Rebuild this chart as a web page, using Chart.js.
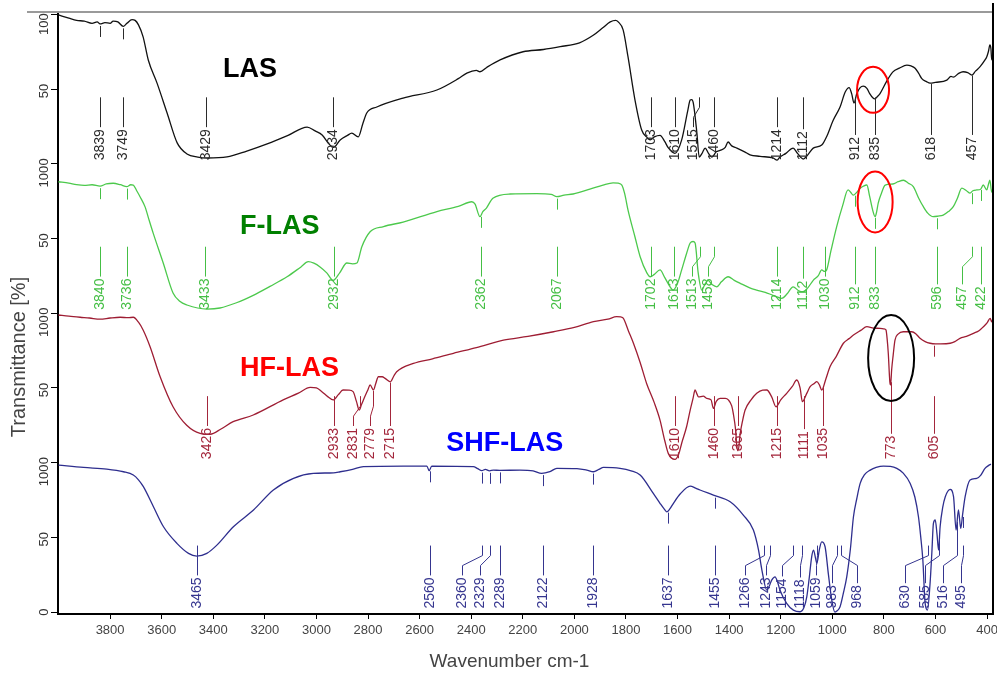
<!DOCTYPE html>
<html>
<head>
<meta charset="utf-8">
<title>FTIR spectra - LAS, F-LAS, HF-LAS, SHF-LAS</title>
<script src="https://cdn.jsdelivr.net/npm/chart.js@4.4.0/dist/chart.umd.min.js"></script>
<style>
  html, body { margin: 0; padding: 0; background: #fff; }
  canvas { display: block; }
</style>
</head>
<body>
<canvas id="ftir" width="997" height="674"></canvas>
<script>
var FONT = 'Arial, "Liberation Sans", sans-serif';

// [wavenumber cm-1, transmittance %]
var lasPoints = [
  [4000, 99.6], [3960, 97.5], [3930, 96], [3900, 95.5], [3870, 94], [3850, 95], [3839, 93.6],
  [3820, 94.5], [3800, 94], [3788, 95.5], [3770, 95], [3749, 92], [3735, 94], [3715, 96.5],
  [3703, 96], [3690, 93], [3672, 85], [3652, 69.5], [3618, 54], [3579, 34], [3540, 14],
  [3502, 6.6], [3460, 4.5], [3424, 3.9], [3347, 4.6], [3270, 8.5], [3191, 13.3], [3110, 19],
  [3036, 24.6], [3005, 22], [2978, 19.3], [2950, 13], [2934, 11], [2908, 16], [2880, 19],
  [2863, 20.5], [2838, 18], [2820, 27], [2805, 34], [2766, 38], [2664, 44], [2533, 49.4],
  [2450, 57], [2417, 60.7], [2380, 62.5], [2366, 61.6], [2340, 64.5], [2288, 69.5], [2199, 75],
  [2120, 76.5], [2055, 78.4], [1980, 81], [1927, 86], [1890, 91], [1861, 95], [1840, 96],
  [1830, 95], [1811, 89.6], [1792, 71.5], [1765, 42.7], [1739, 22.6], [1720, 18], [1706, 16],
  [1690, 18], [1668, 19], [1650, 15], [1637, 11], [1610, 7], [1584, 16], [1560, 36],
  [1551, 42.7], [1545, 43], [1539, 40.7], [1525, 20.6], [1516, 4.5], [1505, 7], [1493, 10.5],
  [1480, 7], [1467, 4.5], [1450, 8], [1435, 9], [1415, 11], [1404, 14.6], [1390, 12],
  [1370, 10.5], [1340, 8], [1319, 6], [1280, 5], [1230, 3.9], [1214, 2.5], [1203, 4.5],
  [1180, 7], [1152, 10.5], [1135, 7], [1113, 3.2], [1095, 6], [1074, 10.5], [1041, 12.6],
  [1020, 19], [997, 29], [970, 38], [950, 48], [935, 51], [925, 47], [916, 40.7], [905, 47],
  [892, 51], [880, 52], [866, 50.5], [855, 47], [842, 44], [835, 43.5], [825, 45], [815, 47],
  [790, 55], [765, 61.5], [740, 64], [711, 66], [695, 65.5], [679, 64], [665, 60.5], [653, 57],
  [635, 55], [621, 54], [600, 54.5], [556, 56], [540, 58.5], [531, 58], [510, 60.5], [493, 61.6],
  [475, 61], [459, 59.4], [445, 62], [427, 65], [410, 69], [401, 71.7], [395, 75], [389, 79.5],
  [385, 77], [382, 69.5], [377, 72]
];

var flasPoints = [
  [4000, 88], [3960, 87], [3930, 86], [3900, 85.5], [3870, 86], [3839, 85], [3815, 86.5],
  [3788, 87], [3760, 86], [3735, 84.7], [3720, 86], [3710, 85.8], [3697, 82], [3684, 78],
  [3664, 71], [3650, 63], [3633, 53.6], [3594, 33.6], [3556, 13.5], [3530, 8], [3502, 5.5],
  [3424, 2.8], [3374, 3.5], [3310, 7], [3245, 12], [3180, 18], [3114, 24.4], [3060, 31],
  [3032, 34.5], [3010, 33.5], [2986, 31], [2960, 27], [2935, 22], [2910, 27], [2882, 33.6],
  [2860, 33], [2843, 33.6], [2824, 44.5], [2792, 54.5], [2740, 58], [2664, 61], [2533, 68],
  [2450, 71.5], [2398, 74.6], [2385, 73], [2366, 64.6], [2355, 68], [2341, 70.4], [2316, 77],
  [2249, 79.8], [2146, 80], [2090, 79.5], [2068, 78], [2040, 79], [2005, 79.8], [1940, 83],
  [1889, 85.8], [1850, 87.3], [1830, 87], [1816, 85.8], [1805, 80], [1792, 69], [1765, 51],
  [1745, 37.8], [1719, 27], [1706, 24.4], [1690, 26], [1668, 29], [1650, 24], [1637, 20],
  [1617, 15.5], [1600, 20], [1584, 29], [1565, 40], [1551, 47], [1540, 48], [1532, 47],
  [1520, 27], [1506, 15.5], [1495, 19], [1482, 22], [1465, 19], [1448, 17.7], [1430, 21],
  [1404, 24.4], [1380, 22], [1357, 20], [1320, 17], [1293, 15.5], [1260, 14], [1230, 12],
  [1196, 10], [1175, 13], [1152, 17.7], [1130, 15], [1113, 14.4], [1095, 17], [1074, 22],
  [1055, 25], [1041, 29], [1030, 28], [1022, 29], [1005, 42], [983, 58], [960, 72],
  [939, 82.5], [929, 81], [919, 79], [905, 81], [892, 83.7], [880, 85], [866, 85.8], [855, 78],
  [842, 68], [834, 64.6], [828, 68], [822, 73.7], [810, 80], [795, 85.8], [765, 86.5],
  [745, 88], [724, 89], [705, 87], [686, 84.7], [665, 77], [647, 71.3], [630, 67], [609, 64.6],
  [590, 65], [570, 65.7], [550, 68], [531, 71.3], [515, 77], [498, 83.7], [480, 82],
  [466, 80.4], [455, 82], [440, 82.5], [425, 83], [415, 85.8], [401, 82.5], [395, 86],
  [389, 89], [382, 81], [377, 84]
];

var hflasPoints = [
  [4000, 98.8], [3960, 98], [3916, 97.3], [3880, 96.8], [3839, 96], [3800, 96.8], [3761, 97.3],
  [3730, 97], [3710, 97.3], [3690, 94], [3672, 88.8], [3645, 77.6], [3606, 57.5], [3556, 37.4],
  [3503, 25], [3451, 19.6], [3412, 19], [3370, 22.5], [3323, 27.4], [3245, 31.9], [3129, 42],
  [3070, 46.5], [3024, 50.4], [3000, 50], [2979, 47.5], [2955, 44], [2935, 42], [2915, 45.5],
  [2897, 48.6], [2875, 48.5], [2858, 47.5], [2845, 41], [2834, 35.2], [2825, 39], [2818, 42],
  [2800, 49], [2792, 52], [2779, 48.6], [2770, 53], [2760, 57.5], [2745, 57.5], [2734, 56.4],
  [2714, 54.1], [2700, 58], [2689, 60.8], [2624, 66.4], [2550, 69.5], [2469, 73.2], [2380, 77],
  [2275, 82], [2180, 84.5], [2081, 87.6], [2000, 90.5], [1926, 94.3], [1870, 96], [1836, 97.7],
  [1820, 97.5], [1810, 96.6], [1790, 88], [1771, 79.9], [1745, 67], [1720, 53], [1690, 40],
  [1668, 28.5], [1650, 15], [1636, 6.2], [1610, 2.2], [1595, 6], [1584, 13], [1565, 24],
  [1551, 35.2], [1540, 43], [1532, 48.6], [1525, 46], [1519, 44], [1500, 44.5], [1487, 43],
  [1470, 42], [1461, 36.3], [1450, 41], [1435, 43], [1415, 43], [1403, 42], [1390, 38],
  [1384, 33], [1375, 22], [1370, 10.6], [1365, 8], [1357, 19.6], [1348, 28], [1338, 35.2],
  [1315, 42], [1293, 46.4], [1270, 48.5], [1254, 48.6], [1235, 44], [1218, 37.4], [1200, 42],
  [1177, 46.4], [1155, 51], [1138, 55.3], [1125, 50], [1116, 40.8], [1100, 46], [1086, 50.8],
  [1070, 53], [1060, 54.2], [1050, 52], [1041, 48.6], [1025, 56], [1009, 64.2], [985, 71],
  [957, 79.9], [935, 83], [918, 85.4], [890, 88.5], [866, 91], [840, 90], [815, 89.9],
  [800, 89.5], [792, 88.8], [787, 82], [783, 73.2], [777, 54.2], [774, 52], [770, 62],
  [764, 72], [757, 82], [745, 86], [725, 87.6], [692, 87.6], [675, 86], [660, 83.2], [640, 81],
  [621, 79.9], [600, 79.5], [580, 79.5], [543, 79.9], [525, 81], [505, 83.2], [480, 84.5],
  [453, 86.5], [430, 88.5], [414, 91], [400, 93.5], [388, 96.6], [382, 94.3], [377, 96]
];

var shflasPoints = [
  [4000, 98.4], [3903, 96.8], [3813, 95.7], [3748, 93.9], [3710, 91.7], [3690, 88.5],
  [3671, 83.9], [3632, 70.5], [3593, 57.1], [3541, 46], [3496, 39.3], [3464, 37.5], [3425, 39.3],
  [3386, 44.8], [3322, 57.1], [3244, 68.3], [3167, 81.7], [3089, 89.5], [3012, 92.8],
  [2934, 93.2], [2908, 93.9], [2860, 95.5], [2818, 97.3], [2663, 97.7], [2572, 97.7],
  [2563, 94.6], [2553, 97.7], [2392, 97.3], [2375, 96], [2359, 94.6], [2345, 95.5], [2329, 94.5],
  [2314, 95], [2289, 94.8], [2211, 95], [2160, 94.5], [2127, 92.8], [2095, 94], [2068, 96.2],
  [1990, 96], [1952, 95], [1926, 93.9], [1905, 95.5], [1887, 96.8], [1823, 96.2], [1780, 94.5],
  [1745, 91.7], [1694, 79.4], [1668, 72.8], [1652, 69], [1642, 67.1], [1630, 69], [1616, 72.8],
  [1590, 79], [1551, 84.3], [1530, 83], [1513, 81.7], [1461, 78.3], [1396, 73.8], [1345, 64.9],
  [1306, 54.9], [1286, 41.5], [1273, 28.1], [1254, 14.7], [1243, 18], [1235, 21.4], [1222, 23.6],
  [1212, 20], [1203, 14.7], [1177, 5.8], [1151, 1.3], [1125, 0.2], [1110, 3], [1099, 10.2],
  [1090, 22], [1080, 37], [1073, 41.5], [1065, 36], [1060, 32.6], [1050, 42], [1041, 47],
  [1028, 43.7], [1015, 25], [1002, 8], [990, 0], [980, 1], [970, 3.5], [958, 12], [944, 23.6],
  [930, 42], [918, 63.8], [905, 76], [892, 86.1], [875, 92], [853, 95], [830, 96.8], [802, 97.7],
  [775, 97.5], [750, 96.2], [725, 93], [698, 86.1], [680, 77], [666, 63.8], [657, 50],
  [649, 34.8], [640, 5.8], [631, 1.3], [621, 19.2], [614, 40], [608, 59.4], [601, 61.6],
  [594, 52], [588, 41.5], [582, 57.1], [572, 70], [562, 77.2], [543, 82.1], [530, 77.2],
  [520, 54.9], [511, 68.3], [502, 56], [495, 65], [485, 77.2], [466, 88.4], [440, 89.5],
  [425, 91.5], [408, 96.2], [395, 98], [385, 99]
];

// labelled peaks (cm-1)
var lasPeaks = [3839, 3749, 3429, 2934, 1703, 1610, 1515, 1460, 1214, 1112, 912, 835, 618, 457];
var flasPeaks = [3840, 3736, 3433, 2932, 2362, 2067, 1702, 1613, 1513, 1458, 1214, 1112, 1030, 912, 833, 596, 457, 422];
var hflasPeaks = [3426, 2933, 2831, 2779, 2715, 1610, 1460, 1365, 1215, 1111, 1035, 773, 605];
var shflasPeaks = [3465, 2560, 2360, 2329, 2289, 2122, 1928, 1637, 1455, 1266, 1243, 1154, 1118, 1059, 983, 968, 630, 585, 516, 495];

var xTicks = [3800, 3600, 3400, 3200, 3000, 2800, 2600, 2400, 2200, 2000, 1800, 1600, 1400, 1200, 1000, 800, 600, 400];
var yTicks = [0, 50, 100, 150, 200, 250, 300, 350, 400];

// where a crowded label's text sits (cm-1), joined to its peak by a bent leader
var textAt = {
  LAS: { 1515: 1540 },
  'F-LAS': { 1513: 1544, 1458: 1482, 457: 498 },
  'HF-LAS': { 2831: 2857, 2779: 2792 },
  'SHF-LAS': { 2360: 2437, 2329: 2366, 1266: 1338, 1243: 1257, 1154: 1195, 1118: 1125,
               1059: 1063, 983: 1001, 968: 904, 630: 718, 585: 640, 516: 570, 495: 501 }
};

var spectra = [
  { name: 'LAS', points: lasPoints, peaks: lasPeaks, offset: 300, line: '#111111', ink: '#2b2b2b',
    title: '#000000', titleAt: [3362, 363] },
  { name: 'F-LAS', points: flasPoints, peaks: flasPeaks, offset: 200, line: '#4cc94c', ink: '#45bf45',
    title: '#008000', titleAt: [3296, 258] },
  { name: 'HF-LAS', points: hflasPoints, peaks: hflasPeaks, offset: 100, line: '#9e1d33', ink: '#a3263b',
    title: '#ff0000', titleAt: [3296, 163] },
  { name: 'SHF-LAS', points: shflasPoints, peaks: shflasPeaks, offset: 0, line: '#2e2e8e', ink: '#35358f',
    title: '#0000ff', titleAt: [2497, 113] }
];

// circled bands: [cm-1, stacked value, rx px, ry px, colour]
var marks = [
  [842, 349.5, 16, 23, '#ff0000'],
  [834, 274.5, 17.5, 30.5, '#ff0000'],
  [772, 170, 23, 43, '#000000']
];

function valueAt(points, wn) {
  for (var i = 0; i < points.length - 1; i++) {
    var a = points[i], b = points[i + 1];
    if (wn <= a[0] && wn >= b[0]) {
      var t = (a[0] - wn) / (a[0] - b[0]);
      return a[1] + t * (b[1] - a[1]);
    }
  }
  return 100;
}

var decor = {
  id: 'decor',
  afterDatasetsDraw: function(chart) {
    var ctx = chart.ctx, xs = chart.scales.x, ys = chart.scales.y, area = chart.chartArea;
    ctx.save();

    // frame bits the axes do not draw
    ctx.strokeStyle = '#9a9a9a';
    ctx.lineWidth = 2;
    ctx.beginPath();
    ctx.moveTo(27, area.top);
    ctx.lineTo(area.right, area.top);
    ctx.stroke();
    ctx.strokeStyle = '#000';
    ctx.beginPath();
    ctx.moveTo(area.right, 3);
    ctx.lineTo(area.right, area.bottom);
    ctx.stroke();

    // peak labels
    ctx.lineWidth = 1;
    ctx.font = '14px ' + FONT;
    spectra.forEach(function(s) {
      var shift = textAt[s.name] || {};
      var base = ys.getPixelForValue(s.offset);
      var lineTop = ys.getPixelForValue(s.offset + 44.5);
      var textBottom = base - 3.5;
      ctx.strokeStyle = s.ink;
      ctx.fillStyle = s.ink;
      s.peaks.forEach(function(p) {
        var x = Math.round(xs.getPixelForValue(p)) + 0.5;
        var tx = Math.round(xs.getPixelForValue(shift[p] || p)) + 0.5;
        var label = String(p);
        var textTop = textBottom - ctx.measureText(label).width - 2;
        var cy = ys.getPixelForValue(s.offset + valueAt(s.points, p));
        ctx.beginPath();
        if (cy < lineTop - 25) {
          ctx.moveTo(x, cy + 2);
          ctx.lineTo(x, cy + 13);
          ctx.moveTo(x, lineTop);
        } else if (cy < lineTop) {
          ctx.moveTo(x, cy + 1);
        } else {
          ctx.moveTo(x, lineTop);
        }
        if (tx !== x) {
          ctx.lineTo(x, lineTop + 10);
          ctx.lineTo(tx, lineTop + 20);
        }
        ctx.lineTo(tx, textTop);
        ctx.stroke();
        ctx.save();
        ctx.translate(tx, textBottom);
        ctx.rotate(-Math.PI / 2);
        ctx.textAlign = 'left';
        ctx.textBaseline = 'middle';
        ctx.fillText(label, 0, 0);
        ctx.restore();
      });

      // sample name
      ctx.save();
      ctx.font = 'bold 27px ' + FONT;
      ctx.fillStyle = s.title;
      ctx.textAlign = 'left';
      ctx.textBaseline = 'middle';
      ctx.fillText(s.name, xs.getPixelForValue(s.titleAt[0]), ys.getPixelForValue(s.titleAt[1]));
      ctx.restore();
    });

    // circled bands
    ctx.lineWidth = 2;
    marks.forEach(function(m) {
      ctx.strokeStyle = m[4];
      ctx.beginPath();
      ctx.ellipse(xs.getPixelForValue(m[0]), ys.getPixelForValue(m[1]), m[2], m[3], 0, 0, Math.PI * 2);
      ctx.stroke();
    });

    // y tick labels, rotated, one 0/50/100 set per spectrum
    ctx.font = '13px ' + FONT;
    ctx.fillStyle = '#333';
    ctx.textBaseline = 'middle';
    yTicks.forEach(function(v) {
      var y = ys.getPixelForValue(v);
      var r = v % 100;
      ctx.save();
      ctx.translate(44, y);
      ctx.rotate(-Math.PI / 2);
      if (r === 50) {
        ctx.textAlign = 'center';
        ctx.fillText('50', -2, 0);
      } else {
        if (v < 400) {
          ctx.textAlign = 'center';
          ctx.fillText('0', v === 0 ? 0 : 2, 0);
        }
        if (v > 0) {
          ctx.textAlign = 'right';
          ctx.fillText('100', v === 400 ? 1 : -2, 0);
        }
      }
      ctx.restore();
    });

    // axis titles
    ctx.fillStyle = '#444';
    ctx.font = '19px ' + FONT;
    ctx.textAlign = 'center';
    ctx.textBaseline = 'middle';
    ctx.fillText('Wavenumber cm-1', (area.left + area.right) / 2 - 16, chart.height - 12);
    ctx.save();
    ctx.translate(19, 357);
    ctx.rotate(-Math.PI / 2);
    ctx.font = '20px ' + FONT;
    ctx.fillText('Transmittance [%]', 0, 0);
    ctx.restore();

    ctx.restore();
  }
};

var datasets = spectra.map(function(s) {
  return {
    label: s.name,
    data: s.points.map(function(p) { return { x: p[0], y: p[1] + s.offset }; }),
    borderColor: s.line,
    borderWidth: 1.3,
    pointRadius: 0,
    fill: false,
    cubicInterpolationMode: 'monotone'
  };
});

var chart = new Chart(document.getElementById('ftir').getContext('2d'), {
  type: 'line',
  data: { datasets: datasets },
  options: {
    responsive: false,
    animation: false,
    layout: { padding: { top: 12, right: 4, left: 0, bottom: 0 } },
    plugins: { legend: { display: false }, tooltip: { enabled: false } },
    scales: {
      x: {
        type: 'linear',
        reverse: true,
        min: 377,
        max: 4002,
        afterBuildTicks: function(scale) { scale.ticks = xTicks.map(function(v) { return { value: v }; }); },
        afterFit: function(scale) {
          scale.height = 60;
          scale.paddingLeft = 0;
          scale.paddingRight = 0;
        },
        grid: { drawOnChartArea: false, drawTicks: true, tickLength: 5, color: '#000' },
        border: { color: '#000', width: 2 },
        ticks: {
          color: '#444', padding: 4, maxRotation: 0, autoSkip: false,
          font: { family: FONT, size: 13 },
          callback: function(v) { return String(v); }
        }
      },
      y: {
        type: 'linear',
        min: -1.3,
        max: 401.6,
        afterBuildTicks: function(scale) { scale.ticks = yTicks.map(function(v) { return { value: v }; }); },
        afterFit: function(scale) { scale.width = 58; },
        grid: { drawOnChartArea: false, drawTicks: true, tickLength: 7, color: '#000' },
        border: { color: '#000', width: 2 },
        ticks: { display: false }
      }
    }
  },
  plugins: [decor]
});
</script>
</body>
</html>
